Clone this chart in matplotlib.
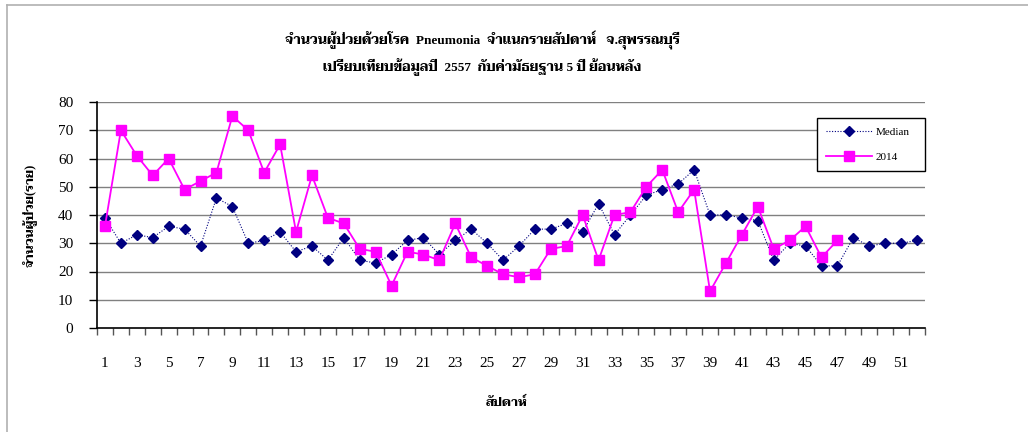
import matplotlib
matplotlib.use("Agg")
import matplotlib.pyplot as plt
from matplotlib.lines import Line2D

# fonts: Times-like latin, Thai falls back to a looped serif thai face
FONTS = ['Liberation Serif', 'Taviraj', 'Trirong', 'Sarabun', 'Noto Serif Thai', 'DejaVu Sans']
plt.rcParams['font.family'] = FONTS

weeks = list(range(1, 53))
median = [39, 30, 33, 32, 36, 35, 29, 46, 43, 30, 31, 34, 27, 29, 24, 32, 24, 23, 26, 31,
          32, 26, 31, 35, 30, 24, 29, 35, 35, 37, 34, 44, 33, 40, 47, 49, 51, 56, 40, 40,
          39, 38, 24, 30, 29, 22, 22, 32, 29, 30, 30, 31]
y2014 = [36, 70, 61, 54, 60, 49, 52, 55, 75, 70, 55, 65, 34, 54, 39, 37, 28, 27, 15, 27,
         26, 24, 37, 25, 22, 19, 18, 19, 28, 29, 40, 24, 40, 41, 50, 56, 41, 49, 13, 23,
         33, 43, 28, 31, 36, 25, 31]
weeks2014 = weeks[:len(y2014)]

title1 = "จำนวนผู้ป่วยด้วยโรค  Pneumonia  จำแนกรายสัปดาห์   จ.สุพรรณบุรี"
title2 = "เปรียบเทียบข้อมูลปี  2557  กับค่ามัธยฐาน 5 ปี ย้อนหลัง"
ylabel = "จำนวนผู้ป่วย(ราย)"
xlabel = "สัปดาห์"

fig = plt.figure(figsize=(10.28, 4.32), dpi=100)
ax = fig.add_axes([97/1028, 1-328/432, 828/1028, 226/432])

for v in range(10, 81, 10):
    ax.axhline(v, color='#808080', lw=1.0, zorder=1)

ax.plot(weeks, median, color='#000080', ls=(0, (1, 1.5)), lw=0.8, marker='D',
        ms=5, mfc='#000080', mec='#000080', zorder=3, label='Median')
ax.plot(weeks2014, y2014, color='#FF00FF', lw=1.3, marker='s', ms=7,
        mfc='#FF00FF', mec='#FF00FF', zorder=4, label='2014')

ax.set_xlim(0.5, 52.5)
ax.set_ylim(0, 80)
ax.set_yticks(range(0, 81, 10))
ax.tick_params(axis='y', length=6, width=1, pad=11, labelsize=11, direction='out')
# category boundaries get the tick marks, odd weeks get the labels
ax.set_xticks([w + 0.5 for w in range(0, 53)])
ax.set_xticklabels([])
ax.tick_params(axis='x', which='major', length=5, width=1, direction='in', color='#555555')
ax.set_xticks(weeks[::2], minor=True)
ax.set_xticklabels([str(w) for w in weeks[::2]], minor=True)
ax.tick_params(axis='x', which='minor', length=0, pad=21, labelsize=11)
for t in ax.get_xticklines():
    t.set_marker(3)  # tick going down from the axis
for s in ['top', 'right']:
    ax.spines[s].set_visible(False)
ax.spines['left'].set_linewidth(1.2)
ax.spines['bottom'].set_linewidth(1.2)

leg = ax.legend(loc='upper left',
                bbox_to_anchor=((817-97)/828, (328-170)/226, 108/828, 52/226),
                mode='expand', frameon=True, fancybox=False, edgecolor='black',
                framealpha=1, fontsize=8, handlelength=4.1, labelspacing=1.35,
                borderpad=0.85, borderaxespad=0, handletextpad=0.3)
leg.get_frame().set_linewidth(1.0)
leg.set_zorder(5)

fig.text(482/1028, 1-40/432, title1, ha='center', va='center', fontsize=9.5, fontweight='bold')
fig.text(482/1028, 1-67/432, title2, ha='center', va='center', fontsize=9.5, fontweight='bold')
fig.text(30/1028, 1-215/432, ylabel, ha='center', va='center', rotation=90, fontsize=9, fontweight='bold')
fig.text(507/1028, 1-403/432, xlabel, ha='center', va='center', fontsize=9, fontweight='bold')

# light frame of the original chart area
fig.add_artist(Line2D([7/1028, 7/1028], [0, 1-5/432], color='#b0b0b0', lw=1.2))
fig.add_artist(Line2D([7/1028, 1], [1-5/432, 1-5/432], color='#b0b0b0', lw=1.2))

fig.savefig("out.png", dpi=100)
